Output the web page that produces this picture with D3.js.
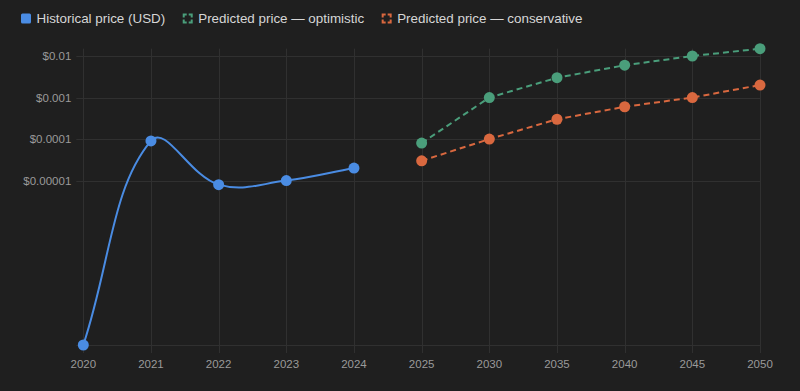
<!DOCTYPE html>
<head>
  <meta charset="UTF-8">
  <title>Price history and prediction</title>
  <style>
    body { margin: 0; background: #1f1f1f; }
    svg { display: block; }
  </style>
</head>
<body>
  <script src="https://cdn.jsdelivr.net/npm/d3@7/dist/d3.min.js"></script>
  <script>
    // data
    var years = ["2020", "2021", "2022", "2023", "2024", "2025", "2030", "2035", "2040", "2045", "2050"];
    var historical = [1.1e-9, 9e-5, 8e-6, 1e-5, 2e-5, null, null, null, null, null, null];
    var optimistic = [null, null, null, null, null, 8e-5, 1e-3, 3e-3, 6e-3, 1e-2, 1.5e-2];
    var conservative = [null, null, null, null, null, 3e-5, 1e-4, 3e-4, 6e-4, 1e-3, 2e-3];
    var yTicks = [1e-5, 1e-4, 1e-3, 1e-2];
    var yTickLabels = ["$0.00001", "$0.0001", "$0.001", "$0.01"];

    var series = [
      { name: "Historical price (USD)", values: historical, color: "#4a8ce3", dashed: false, smooth: true },
      { name: "Predicted price \u2014 optimistic", values: optimistic, color: "#4a9e7b", dashed: true, smooth: false },
      { name: "Predicted price \u2014 conservative", values: conservative, color: "#d9683f", dashed: true, smooth: false }
    ];

    var width = 800, height = 391;
    var plotLeft = 83.3, plotRight = 760, plotTop = 48.7, plotBottom = 345;
    var gridColor = "#303030";
    var tickColor = "#9a9a9a";
    var tickFont = "11.5px 'Liberation Sans', Arial, sans-serif";

    var svg = d3.select("body").append("svg")
      .attr("width", width)
      .attr("height", height);

    var x = d3.scalePoint().domain(years).range([plotLeft, plotRight]);

    var allVals = historical.concat(optimistic, conservative).filter(function (v) { return v != null; });
    var y = d3.scaleLog().domain(d3.extent(allVals)).range([plotBottom, plotTop]);

    // grid
    var grid = svg.append("g").attr("id", "grid");
    grid.selectAll("line.h")
      .data(yTicks)
      .enter().append("line")
      .attr("class", "h")
      .attr("x1", plotLeft - 7).attr("x2", plotRight)
      .attr("y1", function (d) { return Math.round(y(d)) + 0.5; })
      .attr("y2", function (d) { return Math.round(y(d)) + 0.5; })
      .attr("stroke", gridColor);
    grid.selectAll("line.v")
      .data(years)
      .enter().append("line")
      .attr("class", "v")
      .attr("x1", function (d) { return Math.round(x(d)) + 0.5; })
      .attr("x2", function (d) { return Math.round(x(d)) + 0.5; })
      .attr("y1", plotTop).attr("y2", plotBottom + 8)
      .attr("stroke", gridColor);
    grid.append("line")
      .attr("x1", plotLeft - 7).attr("x2", plotRight)
      .attr("y1", plotBottom + 0.5).attr("y2", plotBottom + 0.5)
      .attr("stroke", gridColor);

    // y labels
    svg.append("g").selectAll("text")
      .data(yTicks)
      .enter().append("text")
      .attr("x", plotLeft - 12)
      .attr("y", function (d) { return y(d); })
      .attr("dy", "0.35em")
      .attr("text-anchor", "end")
      .attr("fill", tickColor)
      .style("font", tickFont)
      .text(function (d, i) { return yTickLabels[i]; });

    // x labels
    svg.append("g").selectAll("text")
      .data(years)
      .enter().append("text")
      .attr("x", function (d) { return x(d); })
      .attr("y", plotBottom + 19)
      .attr("dy", "0.35em")
      .attr("text-anchor", "middle")
      .attr("fill", tickColor)
      .style("font", tickFont)
      .text(function (d) { return d; });

    // chart.js style spline (tension 0.4, control points capped to the plot area)
    function splinePath(pts) {
      var t = 0.4;
      var cap = function (p) {
        return [Math.max(plotLeft, Math.min(plotRight, p[0])), Math.max(plotTop, Math.min(plotBottom, p[1]))];
      };
      var cps = pts.map(function (cur, i) {
        var prev = pts[i - 1] || cur, next = pts[i + 1] || cur;
        var d01 = Math.hypot(cur[0] - prev[0], cur[1] - prev[1]);
        var d12 = Math.hypot(next[0] - cur[0], next[1] - cur[1]);
        var s01 = d01 / (d01 + d12), s12 = d12 / (d01 + d12);
        if (isNaN(s01)) s01 = 0;
        if (isNaN(s12)) s12 = 0;
        var fa = t * s01, fb = t * s12;
        return {
          prev: cap([cur[0] - fa * (next[0] - prev[0]), cur[1] - fa * (next[1] - prev[1])]),
          next: cap([cur[0] + fb * (next[0] - prev[0]), cur[1] + fb * (next[1] - prev[1])])
        };
      });
      var p = d3.path();
      p.moveTo(pts[0][0], pts[0][1]);
      for (var i = 1; i < pts.length; i++) {
        p.bezierCurveTo(cps[i - 1].next[0], cps[i - 1].next[1], cps[i].prev[0], cps[i].prev[1], pts[i][0], pts[i][1]);
      }
      return p.toString();
    }

    var lineGen = d3.line();

    series.forEach(function (s) {
      var pts = [];
      s.values.forEach(function (v, i) {
        if (v != null) pts.push([x(years[i]), y(v)]);
      });
      var g = svg.append("g");
      g.append("path")
        .attr("d", s.smooth ? splinePath(pts) : lineGen(pts))
        .attr("fill", "none")
        .attr("stroke", s.color)
        .attr("stroke-width", 2)
        .attr("stroke-dasharray", s.dashed ? "6,4" : null);
      g.selectAll("circle")
        .data(pts)
        .enter().append("circle")
        .attr("cx", function (d) { return d[0]; })
        .attr("cy", function (d) { return d[1]; })
        .attr("r", 5.5)
        .attr("fill", s.color);
    });

    // legend
    var legend = svg.append("g").attr("id", "legend");
    var lx = 21;
    series.forEach(function (s) {
      var item = legend.append("g").attr("transform", "translate(" + lx + ",13.5)");
      if (s.dashed) {
        // corner brackets: dashes wrap around each corner, gaps mid-side
        item.append("rect")
          .attr("x", 1).attr("y", 1).attr("width", 8).attr("height", 8)
          .attr("fill", "none")
          .attr("stroke", s.color)
          .attr("stroke-width", 2)
          .attr("stroke-dasharray", "3,2,6,2,6,2,6,2,3");
      } else {
        item.append("rect")
          .attr("width", 10).attr("height", 10)
          .attr("rx", 1.5)
          .attr("fill", s.color);
      }
      var txt = item.append("text")
        .attr("x", 15.5)
        .attr("y", 5)
        .attr("dy", "0.35em")
        .attr("fill", "#d6d6d6")
        .style("font", "13.4px 'Liberation Sans', Arial, sans-serif")
        .text(s.name);
      lx += 15.5 + txt.node().getComputedTextLength() + 17.5;
    });
  </script>
</body>
